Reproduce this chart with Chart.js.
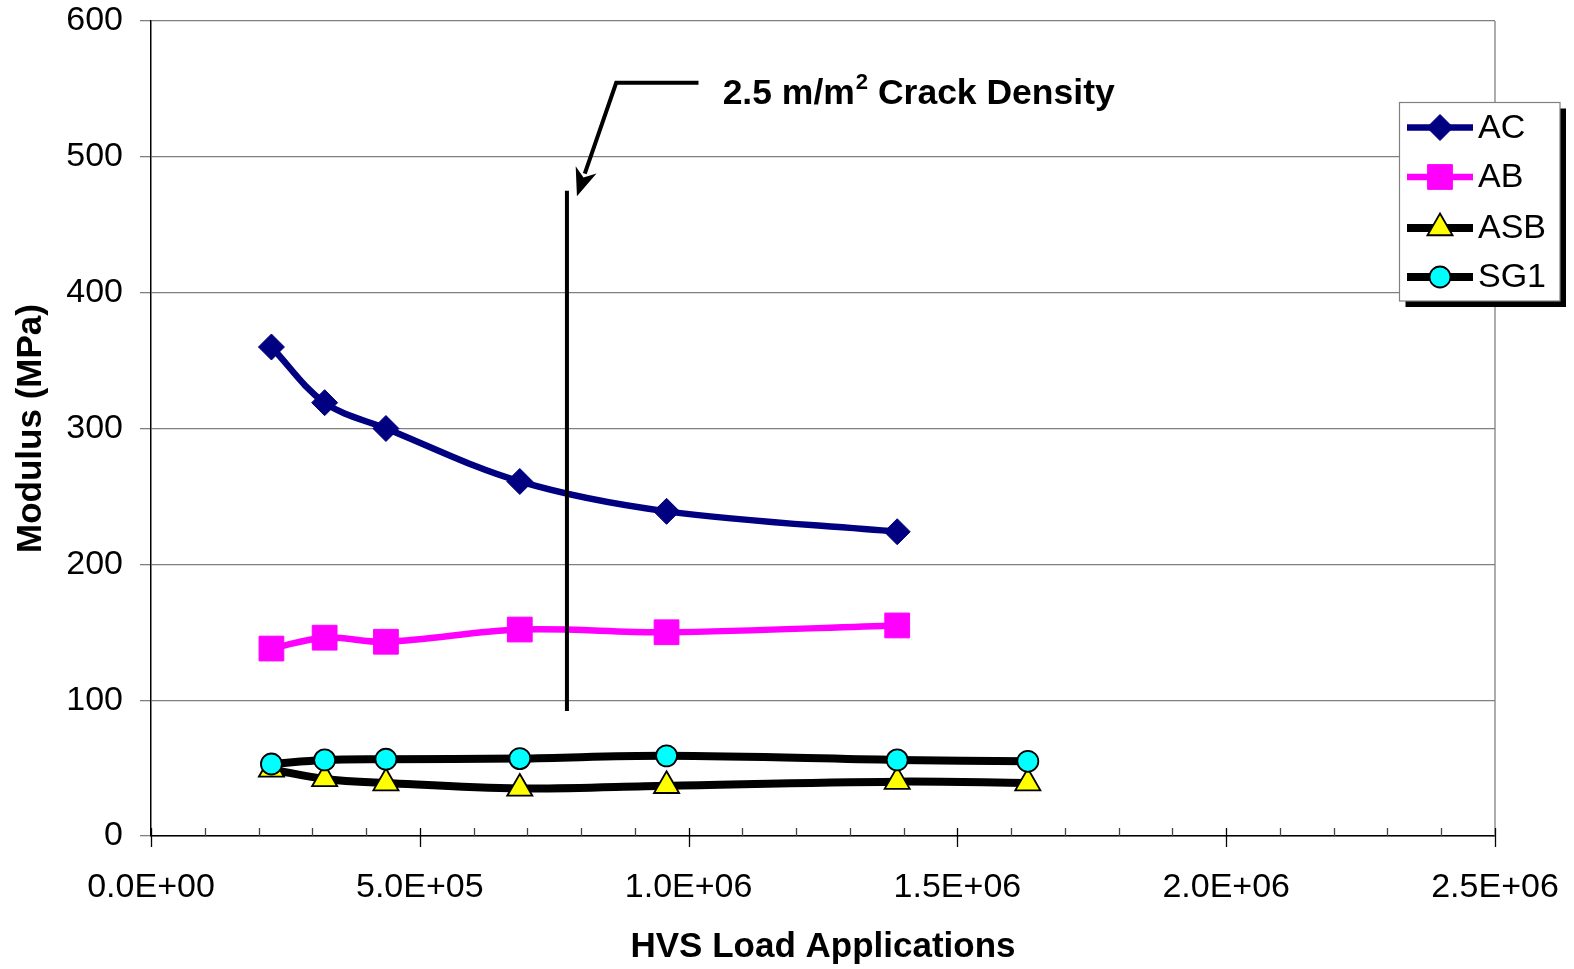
<!DOCTYPE html>
<html>
<head>
<meta charset="utf-8">
<title>Modulus vs HVS Load Applications</title>
<script src="https://cdn.jsdelivr.net/npm/chart.js@4/dist/chart.umd.min.js"></script>
<style>
  html, body { margin: 0; padding: 0; background: #fff; }
  #wrap { width: 1574px; height: 969px; position: relative; }
</style>
</head>
<body>
<div id="wrap"><canvas id="modulusChart"></canvas></div>
<script>
// Backcalculated layer moduli against HVS load repetitions
const loads = [224000, 323000, 437000, 686000, 959000, 1388000, 1631000];
const acModulus = [360, 319, 300, 261, 239, 224];
const abModulus = [138, 146, 143, 152, 150, 155];
const asbModulus = [49, 42, 39, 35, 37, 40, 39];
const sg1Modulus = [53, 56, 56.5, 57, 59, 56, 55];

const seriesNames = ["AC", "AB", "ASB", "SG1"];
const xTickStep = 500000;
const xMinorStep = 100000;
const yTickStep = 100;

// Crack density marker (vertical bar) and its callout
const crackLoad = 773700;
const crackRange = [92, 475];
const calloutPath = [[1018400, 554.5], [865300, 554.5], [792300, 470.9]];
const calloutText = { x: 1063300, y: 539 };

const FONT = "'Liberation Sans', Arial, sans-serif";

function sciLabel(v) {
  if (v === 0) return "0.0E+00";
  const e = Math.floor(Math.log10(v) + 1e-9);
  const m = v / Math.pow(10, e);
  return m.toFixed(1) + "E" + (e < 0 ? "-" : "+") + String(Math.abs(e)).padStart(2, "0");
}

function toPoints(values) {
  return values.map((y, i) => ({ x: loads[i], y }));
}

// Extra drawing: plot frame, x ticks, crack marker, callout and boxed legend
const overlayPlugin = {
  id: "overlay",
  beforeDatasetsDraw(chart) {
    const { ctx, chartArea: a, scales: { x } } = chart;
    ctx.save();
    // right edge of plot area
    ctx.strokeStyle = "#808080";
    ctx.lineWidth = 1.3;
    ctx.beginPath();
    ctx.moveTo(a.right, a.top);
    ctx.lineTo(a.right, a.bottom);
    ctx.stroke();
    // minor ticks point inward, major ticks cross the axis
    ctx.strokeStyle = "#444";
    ctx.lineWidth = 1.3;
    for (let v = xMinorStep; v < x.max; v += xMinorStep) {
      if (v % xTickStep === 0) continue;
      const px = Math.round(x.getPixelForValue(v)) + 0.5;
      ctx.beginPath();
      ctx.moveTo(px, a.bottom);
      ctx.lineTo(px, a.bottom - 8);
      ctx.stroke();
    }
    ctx.strokeStyle = "#000";
    for (let v = 0; v <= x.max; v += xTickStep) {
      const px = Math.round(x.getPixelForValue(v)) + 0.5;
      ctx.beginPath();
      ctx.moveTo(px, a.bottom - 8);
      ctx.lineTo(px, a.bottom + 11);
      ctx.stroke();
    }
    ctx.restore();
  },
  afterDatasetsDraw(chart) {
    const { ctx, scales: { x, y } } = chart;
    ctx.save();
    ctx.strokeStyle = "#000";
    ctx.fillStyle = "#000";

    // vertical crack density bar
    const cx = x.getPixelForValue(crackLoad);
    ctx.lineWidth = 4;
    ctx.beginPath();
    ctx.moveTo(cx, y.getPixelForValue(crackRange[0]));
    ctx.lineTo(cx, y.getPixelForValue(crackRange[1]));
    ctx.stroke();

    // callout arrow
    const pts = calloutPath.map(p => [x.getPixelForValue(p[0]), y.getPixelForValue(p[1])]);
    const tip = pts[pts.length - 1];
    const prev = pts[pts.length - 2];
    const ang = Math.atan2(tip[1] - prev[1], tip[0] - prev[0]);
    const headLen = 28, headHalf = 11;
    ctx.lineWidth = 4;
    ctx.lineJoin = "miter";
    ctx.beginPath();
    ctx.moveTo(pts[0][0], pts[0][1]);
    ctx.lineTo(pts[1][0], pts[1][1]);
    ctx.lineTo(tip[0] - Math.cos(ang) * (headLen - 4), tip[1] - Math.sin(ang) * (headLen - 4));
    ctx.stroke();
    ctx.beginPath();
    ctx.moveTo(tip[0], tip[1]);
    ctx.lineTo(tip[0] - Math.cos(ang) * headLen - Math.sin(ang) * headHalf,
               tip[1] - Math.sin(ang) * headLen + Math.cos(ang) * headHalf);
    ctx.lineTo(tip[0] - Math.cos(ang) * (headLen - 8), tip[1] - Math.sin(ang) * (headLen - 8));
    ctx.lineTo(tip[0] - Math.cos(ang) * headLen + Math.sin(ang) * headHalf,
               tip[1] - Math.sin(ang) * headLen - Math.cos(ang) * headHalf);
    ctx.closePath();
    ctx.fill();

    // callout label with superscript
    let tx = x.getPixelForValue(calloutText.x);
    const ty = y.getPixelForValue(calloutText.y);
    ctx.textBaseline = "alphabetic";
    ctx.textAlign = "left";
    ctx.font = "bold 35.5px " + FONT;
    ctx.fillText("2.5 m/m", tx, ty);
    tx += ctx.measureText("2.5 m/m").width + 1;
    ctx.font = "bold 22px " + FONT;
    ctx.fillText("2", tx, ty - 15);
    tx += ctx.measureText("2").width;
    ctx.font = "bold 35.5px " + FONT;
    ctx.fillText(" Crack Density", tx, ty);
    ctx.restore();
  },
  afterDraw(chart) {
    const { ctx } = chart;
    const box = { left: 1399.5, top: 102.5, right: 1560, bottom: 301 };
    const shadow = 6;
    ctx.save();
    ctx.fillStyle = "#000";
    ctx.fillRect(box.left + shadow, box.top + shadow, box.right - box.left, box.bottom - box.top);
    ctx.fillStyle = "#fff";
    ctx.fillRect(box.left, box.top, box.right - box.left, box.bottom - box.top);
    ctx.strokeStyle = "#808080";
    ctx.lineWidth = 1.2;
    ctx.strokeRect(box.left, box.top, box.right - box.left, box.bottom - box.top);

    const rows = [127.5, 177, 228, 277];
    const x0 = 1407, x1 = 1473;
    chart.data.datasets.forEach((ds, i) => {
      const ry = rows[i];
      ctx.strokeStyle = ds.borderColor;
      ctx.lineWidth = ds.borderWidth;
      ctx.beginPath();
      ctx.moveTo(x0, ry);
      ctx.lineTo(x1, ry);
      ctx.stroke();
      ctx.fillStyle = ds.pointBackgroundColor;
      ctx.strokeStyle = ds.pointBorderColor;
      ctx.lineWidth = ds.pointBorderWidth;
      Chart.helpers.drawPoint(ctx, {
        pointStyle: ds.pointStyle,
        radius: ds.pointRadius,
        borderWidth: ds.pointBorderWidth
      }, (x0 + x1) / 2, ry);
      ctx.fillStyle = "#000";
      ctx.font = "34px " + FONT;
      ctx.textAlign = "left";
      ctx.textBaseline = "middle";
      ctx.fillText(ds.label, 1478, ry + 1);
    });
    ctx.restore();
  }
};

const chart = new Chart(document.getElementById("modulusChart"), {
  type: "line",
  data: {
    datasets: [
      {
        label: seriesNames[0],
        data: toPoints(acModulus),
        borderColor: "#000080",
        borderWidth: 6.5,
        pointStyle: "rectRot",
        pointRadius: 13,
        pointBackgroundColor: "#000080",
        pointBorderColor: "#000080",
        pointBorderWidth: 1,
        order: 3
      },
      {
        label: seriesNames[1],
        data: toPoints(abModulus),
        borderColor: "#ff00ff",
        borderWidth: 6.5,
        pointStyle: "rect",
        pointRadius: 17.5,
        pointBackgroundColor: "#ff00ff",
        pointBorderColor: "#ff00ff",
        pointBorderWidth: 1,
        order: 2
      },
      {
        label: seriesNames[2],
        data: toPoints(asbModulus),
        borderColor: "#000000",
        borderWidth: 8,
        pointStyle: "triangle",
        pointRadius: 14.5,
        pointBackgroundColor: "#ffff00",
        pointBorderColor: "#000000",
        pointBorderWidth: 1.8,
        order: 1
      },
      {
        label: seriesNames[3],
        data: toPoints(sg1Modulus),
        borderColor: "#000000",
        borderWidth: 8,
        pointStyle: "circle",
        pointRadius: 10.5,
        pointBackgroundColor: "#00ffff",
        pointBorderColor: "#000000",
        pointBorderWidth: 1.8,
        order: 0
      }
    ]
  },
  options: {
    responsive: true,
    maintainAspectRatio: false,
    animation: false,
    devicePixelRatio: 1,
    layout: { padding: { top: 21, right: 79, bottom: 0, left: 0 } },
    elements: { line: { tension: 0.35, cubicInterpolationMode: "default" } },
    plugins: {
      legend: { display: false },
      tooltip: { enabled: false }
    },
    scales: {
      x: {
        type: "linear",
        min: 0,
        max: 2500000,
        afterFit: s => {
          s.height = 133;
          s.paddingLeft = 0;
          s.paddingRight = 0;
        },
        afterBuildTicks: s => {
          s.ticks = [];
          for (let v = s.min; v <= s.max; v += xTickStep) s.ticks.push({ value: v });
        },
        ticks: {
          callback: v => sciLabel(v),
          color: "#000",
          font: { family: FONT, size: 34 },
          padding: 31,
          maxRotation: 0,
          autoSkip: false
        },
        grid: { display: false, drawTicks: false },
        border: { display: true, color: "#000", width: 1.5 },
        title: {
          display: true,
          text: "HVS Load Applications",
          color: "#000",
          font: { family: FONT, size: 35, weight: "bold" },
          padding: { top: 0, bottom: 1 }
        }
      },
      y: {
        min: 0,
        max: 600,
        afterFit: s => {
          s.width = 151;
          s.paddingTop = 0;
          s.paddingBottom = 0;
        },
        ticks: {
          stepSize: yTickStep,
          color: "#000",
          font: { family: FONT, size: 34 },
          padding: 17
        },
        grid: { color: "#808080", lineWidth: 1.3, drawTicks: true, tickLength: 11 },
        border: { display: true, color: "#000", width: 1.5 },
        title: {
          display: true,
          text: "Modulus (MPa)",
          color: "#000",
          font: { family: FONT, size: 35, weight: "bold" },
          padding: { top: 10, bottom: 0 }
        }
      }
    }
  },
  plugins: [overlayPlugin]
});
</script>
</body>
</html>
